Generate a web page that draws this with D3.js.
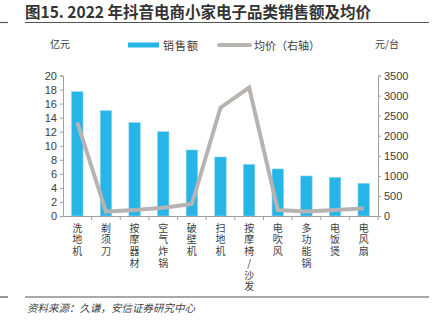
<!DOCTYPE html>
<html><head><meta charset="utf-8">
<script src="https://cdn.jsdelivr.net/npm/d3@7"></script>
<style>
body{margin:0;background:#fff;}
svg text{font-family:"Liberation Sans","Noto Sans CJK SC",sans-serif;}
.cjk{font-family:"Noto Sans CJK SC",sans-serif;}
.vt{writing-mode:vertical-rl;text-orientation:upright;}
</style></head><body>
<svg id="c" width="436" height="325"></svg>
<script>
const categories = ["洗地机","剃须刀","按摩器材","空气炸锅","破壁机","扫地机","按摩椅/沙发","电吹风","多功能锅","电饭煲","电风扇"];
const sales = [17.7, 15.0, 13.3, 12.0, 9.4, 8.4, 7.35, 6.7, 5.7, 5.5, 4.65];
const avgPrice = [2330, 110, 150, 205, 300, 2700, 3200, 150, 110, 150, 190];
const leftTicks = [0,2,4,6,8,10,12,14,16,18,20];
const rightTicks = [0,500,1000,1500,2000,2500,3000,3500];

const svg = d3.select("#c");
const L = 63, R = 378, T = 75.5, B = 216;
const x = d3.scaleBand().domain(categories).range([L, R]).paddingInner(0.6).paddingOuter(0.3);
const xb = d3.scaleBand().domain(categories).range([L, R]);
const yL = d3.scaleLinear().domain([0,20]).range([B, T]);
const yR = d3.scaleLinear().domain([0,3500]).range([B, T]);
const axisColor = "#a0a0a0", textColor = "#404040";

// title
svg.append("text").attr("class","cjk").attr("x",25).attr("y",18).attr("font-size",15.5).attr("font-weight","bold").attr("fill","#333").text("图15. 2022 年抖音电商小家电子品类销售额及均价");
svg.append("line").attr("x1",25).attr("x2",429).attr("y1",22.5).attr("y2",22.5).attr("stroke","#555").attr("stroke-width",1.2);
svg.append("line").attr("x1",0).attr("x2",8).attr("y1",22.5).attr("y2",22.5).attr("stroke","#555").attr("stroke-width",1.2);
svg.append("line").attr("x1",25).attr("x2",429).attr("y1",297).attr("y2",297).attr("stroke","#555").attr("stroke-width",1.2);
svg.append("line").attr("x1",0).attr("x2",8).attr("y1",297).attr("y2",297).attr("stroke","#555").attr("stroke-width",1.2);
svg.append("text").attr("class","cjk").attr("x",27).attr("y",312).attr("font-size",10.5).attr("font-style","italic").attr("fill","#444").text("资料来源：久谦，安信证券研究中心");

// units
svg.append("text").attr("class","cjk").attr("x",50).attr("y",48).attr("font-size",10).attr("fill",textColor).text("亿元");
svg.append("text").attr("class","cjk").attr("x",375).attr("y",48).attr("font-size",10).attr("fill",textColor).text("元/台");

// legend
svg.append("rect").attr("x",128).attr("y",42.5).attr("width",31).attr("height",5).attr("fill","#27b4e6");
svg.append("text").attr("class","cjk").attr("x",163).attr("y",50).attr("font-size",11).attr("letter-spacing",1).attr("fill",textColor).text("销售额");
svg.append("line").attr("x1",219).attr("x2",250).attr("y1",45).attr("y2",45).attr("stroke","#b8b3b3").attr("stroke-width",4).attr("stroke-linecap","round");
svg.append("text").attr("class","cjk").attr("x",254).attr("y",50).attr("font-size",11).attr("fill",textColor).text("均价（右轴）");

// bars
svg.selectAll("rect.bar").data(categories).enter().append("rect").attr("class","bar")
  .attr("x", d => x(d)).attr("width", x.bandwidth())
  .attr("y", (d,i) => yL(sales[i])).attr("height", (d,i) => B - yL(sales[i]))
  .attr("fill","#27b4e6").attr("stroke","#8fd6f2").attr("stroke-width",0.6);

// axes
const axL = d3.axisLeft(yL).tickValues(leftTicks).tickSize(3).tickPadding(3);
const gL = svg.append("g").attr("transform",`translate(${L},0)`).call(axL);
const axR = d3.axisRight(yR).tickValues(rightTicks).tickFormat(d3.format("d")).tickSize(3).tickPadding(3);
const gR = svg.append("g").attr("transform",`translate(${R},0)`).call(axR);
[gL,gR].forEach(g=>{
  g.select(".domain").attr("stroke",axisColor);
  g.selectAll(".tick line").attr("stroke",axisColor);
  g.selectAll(".tick text").attr("fill",textColor).attr("font-size",11).attr("font-family","Liberation Sans, sans-serif");
});
svg.append("line").attr("x1",L).attr("x2",R).attr("y1",B+0.5).attr("y2",B+0.5).attr("stroke",axisColor);
svg.selectAll("line.xt").data(categories.slice(1).concat(["_end"])).enter().append("line").attr("class","xt")
  .attr("x1",(d,i)=>L + xb.step()*(i+1)).attr("x2",(d,i)=>L + xb.step()*(i+1))
  .attr("y1",B+0.5).attr("y2",B+4).attr("stroke",axisColor);

// line
const line = d3.line().x((d,i)=>x(categories[i])+x.bandwidth()/2).y(d=>yR(d));
svg.append("path").datum(avgPrice).attr("d",line).attr("fill","none").attr("stroke","#b8b3b3").attr("stroke-width",4).attr("stroke-linejoin","miter");

// x labels vertical
svg.selectAll("text.xl").data(categories).enter().append("text").attr("class","xl cjk vt")
  .attr("x", d => x(d)+x.bandwidth()/2).attr("y", 223)
  .attr("font-size",10).attr("letter-spacing",1.7).attr("fill",textColor)
  .text(d=>d);
</script></body></html>
